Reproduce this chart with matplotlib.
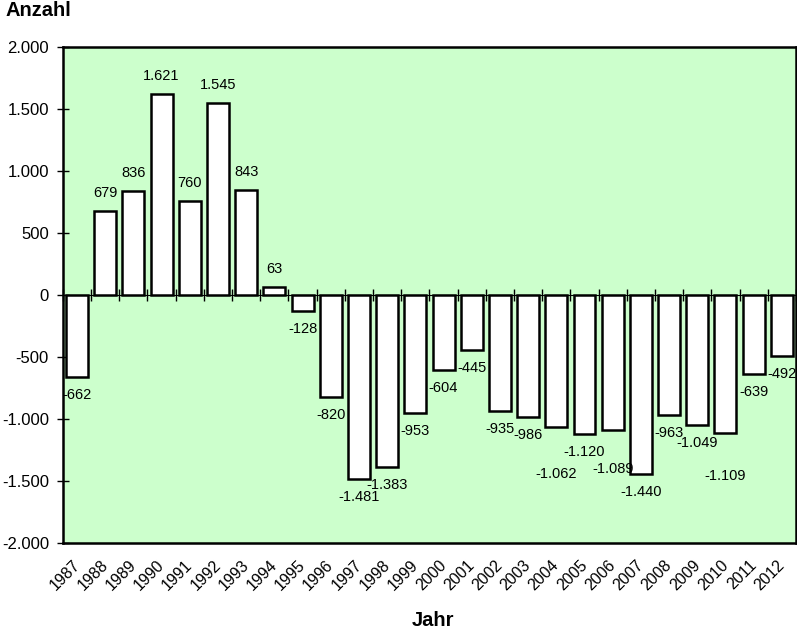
import matplotlib
matplotlib.use("Agg")
import matplotlib.pyplot as plt
import matplotlib.transforms as mtransforms
import numpy as np

years = ["1987", "1988", "1989", "1990", "1991", "1992", "1993", "1994", "1995",
         "1996", "1997", "1998", "1999", "2000", "2001", "2002", "2003", "2004",
         "2005", "2006", "2007", "2008", "2009", "2010", "2011", "2012"]
values = [-662, 679, 836, 1621, 760, 1545, 843, 63, -128,
          -820, -1481, -1383, -953, -604, -445, -935, -986, -1062,
          -1120, -1089, -1440, -963, -1049, -1109, -639, -492]
y_ticks = [-2000, -1500, -1000, -500, 0, 500, 1000, 1500, 2000]

# extra label displacement (pixels) for a few labels, as in the reference
extra_offset = {"2004": 29, "2006": 21, "2010": 25}


def de_fmt(v):
    return f"{v:,}".replace(",", ".")


plt.rcParams['font.family'] = ['Liberation Sans', 'DejaVu Sans']

fig = plt.figure(figsize=(7.97, 6.28), dpi=100)
ax = fig.add_axes([0.0789, 0.1349, 0.9987 - 0.0789, 0.9256 - 0.1349])
ax.set_facecolor('#CCFFCC')

x = np.arange(len(years))
ax.bar(x, values, width=0.78, color='white', edgecolor='black', linewidth=1.8, zorder=3)

ax.set_xlim(-0.5, len(years) - 0.5)
ax.set_ylim(-2000, 2000)

ax.set_yticks(y_ticks)
ax.set_yticklabels([de_fmt(v) for v in y_ticks], fontsize=12)
ax.tick_params(axis='y', direction='inout', length=8, width=1, pad=6)

ax.set_xticks(x)
ax.set_xticklabels(years, fontsize=11.5, rotation=45, ha='right', rotation_mode='anchor')
ax.tick_params(axis='x', length=0, pad=10)
shift = mtransforms.ScaledTranslation(-5 / 100, 0, fig.dpi_scale_trans)
for lbl in ax.get_xticklabels():
    lbl.set_transform(lbl.get_transform() + shift)

for s in ax.spines.values():
    s.set_linewidth(1.8)
    s.set_color('black')

# zero line with category boundary ticks
sec = ax.secondary_xaxis(0.5)
sec.set_xticks(np.arange(len(years) + 1) - 0.5)
sec.set_xticklabels([])
sec.tick_params(axis='x', direction='inout', length=8, width=1)
sec.spines['bottom'].set_linewidth(1.8)

for xi, v, yr in zip(x, values, years):
    off = 18 + extra_offset.get(yr, 0)
    dy = off if v >= 0 else -off
    t = ax.annotate(de_fmt(v), xy=(xi, v), xytext=(0, dy), textcoords='offset pixels',
                    ha='center', va='center', fontsize=10.5, zorder=4)
    t.set_clip_on(True)

fig.text(6 / 797, 1 - 10 / 628, "Anzahl", fontsize=14.5, fontweight='bold', ha='left', va='center')
fig.text(433 / 797, 1 - 620 / 628, "Jahr", fontsize=14.5, fontweight='bold', ha='center', va='center')

fig.savefig("out.png", dpi=100)
